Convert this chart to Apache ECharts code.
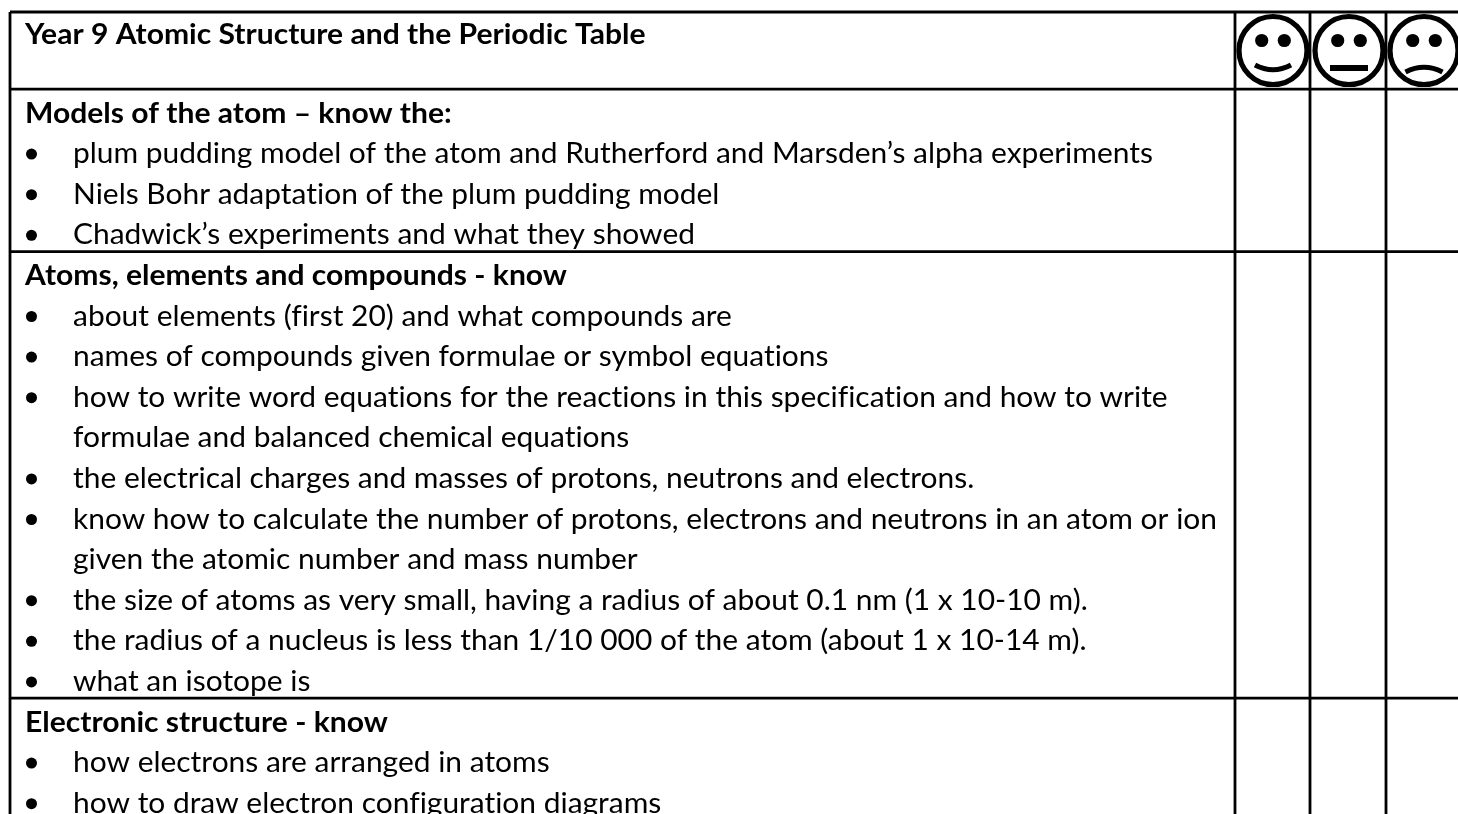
<!DOCTYPE html>
<html>
<head>
<meta charset="utf-8">
<title>Year 9 Atomic Structure and the Periodic Table</title>
<style>
  html, body { margin: 0; padding: 0; background: #fff; }
  #chart { width: 1458px; height: 814px; }
</style>
<script src="https://cdn.jsdelivr.net/npm/echarts@6/dist/echarts.min.js"></script>
</head>
<body>
<div id="chart"></div>
<script>
// table text, one entry per printed line
const textLines = [
  'Year 9 Atomic Structure and the Periodic Table',
  '',
  'Models of the atom – know the:',
  'plum pudding model of the atom and Rutherford and Marsden’s alpha experiments',
  'Niels Bohr adaptation of the plum pudding model',
  'Chadwick’s experiments and what they showed',
  'Atoms, elements and compounds - know',
  'about elements (first 20) and what compounds are',
  'names of compounds given formulae or symbol equations',
  'how to write word equations for the reactions in this specification and how to write',
  'formulae and balanced chemical equations',
  'the electrical charges and masses of protons, neutrons and electrons.',
  'know how to calculate the number of protons, electrons and neutrons in an atom or ion',
  'given the atomic number and mass number',
  'the size of atoms as very small, having a radius of about 0.1 nm (1 x 10-10 m).',
  'the radius of a nucleus is less than 1/10 000 of the atom (about 1 x 10-14 m).',
  'what an isotope is',
  'Electronic structure - know',
  'how electrons are arranged in atoms',
  'how to draw electron configuration diagrams'
];
// line kinds: b = bold heading, d = bullet item, c = continuation of a bullet, e = empty
const lineKinds = ['b', 'e', 'b', 'd', 'd', 'd', 'b', 'd', 'd', 'd', 'c', 'd', 'd', 'c', 'd', 'd', 'd', 'b', 'd', 'd'];
// lines after which a horizontal table border runs
const sectionEnds = [1, 5, 16];
const faces = ['smile', 'neutral', 'frown'];

// page layout
const PAGE_W = 1458, PAGE_H = 814;
const ROW_H = 40.6, FIRST_ROW_Y = 113.5 - 2 * ROW_H;
const TABLE_LEFT = 10, TABLE_TOP = 12;
const COL_EDGES = [1235, 1310, 1386];
const FACE_CENTERS = [1273, 1349, 1424];
const BOLD_X = 25, BULLET_X = 31.5, ITEM_X = 73;
const FONT_SIZE = 30, BOLD_SCALE = 1.002, ITEM_SCALE = 0.998, TEXT_SCALE_Y = 0.95;
const TITLE_NUDGE = 2.5, RULE_W = 2.8;

// the source document has no ti / fi ligatures, Lato would draw them
const drawText = CanvasRenderingContext2D.prototype.fillText;
CanvasRenderingContext2D.prototype.fillText = function (...args) {
  this.textRendering = 'optimizeSpeed';
  return drawText.apply(this, args);
};

function rowOfY(y) {
  return (y - FIRST_ROW_Y) / ROW_H;
}

function renderLine(params, api) {
  const i = api.value(0);
  const kind = lineKinds[i];
  if (kind === 'e') return null;
  const y = api.coord([0, i])[1];
  const bold = kind === 'b';
  const children = [];
  if (kind === 'd') {
    children.push({
      type: 'circle',
      shape: { cx: api.coord([BULLET_X, i])[0], cy: y, r: 5.5 },
      style: { fill: '#000' }
    });
  }
  children.push({
    type: 'text',
    x: api.coord([bold ? BOLD_X : ITEM_X, i])[0],
    y: i === 0 ? y + TITLE_NUDGE : y,
    scaleX: bold ? BOLD_SCALE : ITEM_SCALE,
    scaleY: TEXT_SCALE_Y,
    style: {
      text: textLines[i],
      x: 0,
      y: 0,
      fill: '#000',
      font: (bold ? 'bold ' : '') + FONT_SIZE + 'px Lato',
      textAlign: 'left',
      textVerticalAlign: 'middle'
    }
  });
  return { type: 'group', children: children };
}

function renderBorders(params, api) {
  const top = api.coord([0, rowOfY(TABLE_TOP)])[1];
  const children = [];
  const hLine = (y) => ({
    type: 'line',
    shape: { x1: TABLE_LEFT, y1: y, x2: PAGE_W, y2: y },
    style: { stroke: '#000', lineWidth: RULE_W }
  });
  const vLine = (x) => ({
    type: 'line',
    shape: { x1: x, y1: top, x2: x, y2: PAGE_H },
    style: { stroke: '#000', lineWidth: RULE_W }
  });
  children.push(hLine(top));
  sectionEnds.forEach(r => children.push(hLine(api.coord([0, r + 0.4])[1])));
  children.push(vLine(TABLE_LEFT));
  COL_EDGES.forEach(x => children.push(vLine(x)));
  return { type: 'group', children: children };
}

function renderFace(params, api) {
  const kind = faces[api.value(0)];
  const c = api.coord([FACE_CENTERS[api.value(0)], rowOfY(50.5)]);
  const cx = c[0], cy = c[1];
  const mouth = { stroke: '#000', fill: 'none', lineWidth: 5 };
  const children = [
    { type: 'circle', shape: { cx: cx, cy: cy, r: 34 }, style: { stroke: '#000', fill: 'none', lineWidth: 5.2 } },
    { type: 'circle', shape: { cx: cx - 11.3, cy: cy - 10, r: 6.6 }, style: { fill: '#000' } },
    { type: 'circle', shape: { cx: cx + 11.3, cy: cy - 10, r: 6.6 }, style: { fill: '#000' } }
  ];
  if (kind === 'smile') {
    children.push({ type: 'bezierCurve', shape: { x1: cx - 18, y1: cy + 14.5, x2: cx + 18, y2: cy + 14.5, cpx1: cx, cpy1: cy + 24 }, style: mouth });
  } else if (kind === 'neutral') {
    children.push({ type: 'line', shape: { x1: cx - 19, y1: cy + 17.5, x2: cx + 19, y2: cy + 17.5 }, style: { stroke: '#000', lineWidth: 5.8 } });
  } else {
    children.push({ type: 'bezierCurve', shape: { x1: cx - 18.5, y1: cy + 21.5, x2: cx + 18.5, y2: cy + 21.5, cpx1: cx, cpy1: cy + 12 }, style: mouth });
  }
  return { type: 'group', children: children };
}

const chart = echarts.init(document.getElementById('chart'), null, { renderer: 'canvas' });
chart.setOption({
  animation: false,
  backgroundColor: '#fff',
  grid: { left: 0, top: 0, width: PAGE_W, height: PAGE_H, containLabel: false },
  xAxis: { type: 'value', min: 0, max: PAGE_W, show: false },
  yAxis: { type: 'value', inverse: true, min: rowOfY(0), max: rowOfY(PAGE_H), show: false },
  tooltip: { show: false },
  series: [
    {
      type: 'custom',
      silent: true,
      clip: false,
      renderItem: renderBorders,
      data: [[0]]
    },
    {
      type: 'custom',
      silent: true,
      clip: false,
      renderItem: renderLine,
      data: textLines.map((t, i) => [i])
    },
    {
      type: 'custom',
      silent: true,
      clip: false,
      renderItem: renderFace,
      data: faces.map((f, i) => [i])
    }
  ]
});
</script>
</body>
</html>
